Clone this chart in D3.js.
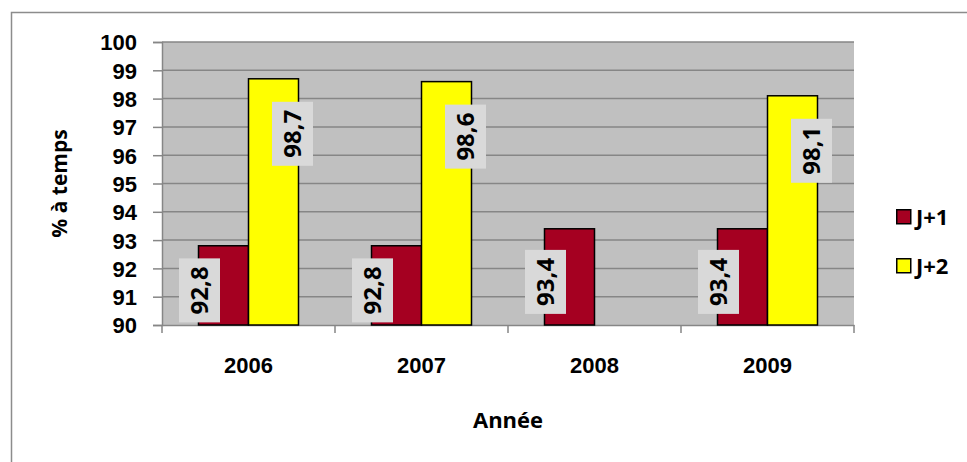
<!DOCTYPE html>
<html>
<head>
<meta charset="utf-8">
<script src="https://cdn.jsdelivr.net/npm/d3@7"></script>
<style>
  body { margin: 0; background: #fff; }
  svg { font-family: "Open Sans", sans-serif; font-weight: bold; }
  .axis path, .axis line { stroke: #868686; stroke-width: 1.5; }
  .axis text { fill: #000; font-size: 22px; font-weight: bold; }
</style>
</head>
<body>
<svg width="967" height="462"></svg>
<script>
// chart values
var years = ['2006', '2007', '2008', '2009'];
var series = ['J+1', 'J+2'];
var j1 = [92.8, 92.8, 93.4, 93.4];
var j2 = [98.7, 98.6, null, 98.1];
var yTicks = [90, 91, 92, 93, 94, 95, 96, 97, 98, 99, 100];
var colors = ['#a50021', '#ffff00'];

var svg = d3.select('svg');

// outer chart border
svg.append('rect')
   .attr('x', 11.5).attr('y', 12.5)
   .attr('width', 1000).attr('height', 500)
   .attr('fill', 'none')
   .attr('stroke', '#8c8c8c')
   .attr('stroke-width', 1.5);

var plotLeft = 162, plotRight = 854, plotTop = 42, plotBottom = 325;

var xScale = d3.scaleBand()
   .domain(years)
   .range([plotLeft, plotRight]);

var groupW = 100;
var xInner = d3.scaleBand()
   .domain(series)
   .range([0, groupW]);

var yScale = d3.scaleLinear()
   .domain([90, 100])
   .range([plotBottom, plotTop]);

// plot background
svg.append('rect')
   .attr('x', plotLeft).attr('y', plotTop)
   .attr('width', plotRight - plotLeft).attr('height', plotBottom - plotTop)
   .attr('fill', '#c0c0c0');

// gridlines
svg.selectAll('.grid')
   .data(yTicks.slice(1))
   .enter()
   .append('line')
   .attr('class', 'grid')
   .attr('x1', plotLeft).attr('x2', plotRight)
   .attr('y1', function(d){ return yScale(d); })
   .attr('y2', function(d){ return yScale(d); })
   .attr('stroke', '#868686')
   .attr('stroke-width', 1.5);

// axes
svg.append('g')
   .attr('class', 'y axis')
   .attr('transform', 'translate(' + plotLeft + ',0)')
   .call(d3.axisLeft(yScale).tickValues(yTicks).tickSize(9).tickPadding(16).tickFormat(d3.format('d')))
   .call(function(g){ g.selectAll('text').attr('dy', '0.36em'); });

var xAxis = svg.append('g')
   .attr('class', 'x axis')
   .attr('transform', 'translate(0,' + plotBottom + ')')
   .call(d3.axisBottom(xScale).tickSize(0).tickPadding(32));

// category separator ticks
svg.selectAll('.xtick')
   .data(years.concat(['end']))
   .enter()
   .append('line')
   .attr('class', 'xtick')
   .attr('x1', function(d, i){ return plotLeft + i * xScale.bandwidth(); })
   .attr('x2', function(d, i){ return plotLeft + i * xScale.bandwidth(); })
   .attr('y1', plotBottom).attr('y2', plotBottom + 8)
   .attr('stroke', '#868686')
   .attr('stroke-width', 1.5);

// bars
var rows = [];
years.forEach(function(y, i){
   rows.push({year: y, s: 0, v: j1[i]});
   if (j2[i] !== null) rows.push({year: y, s: 1, v: j2[i]});
});

function barX(d){
   return xScale(d.year) + (xScale.bandwidth() - groupW) / 2 + xInner(series[d.s]);
}

svg.selectAll('.bar')
   .data(rows)
   .enter()
   .append('rect')
   .attr('class', 'bar')
   .attr('x', barX)
   .attr('y', function(d){ return yScale(d.v); })
   .attr('width', xInner.bandwidth())
   .attr('height', function(d){ return plotBottom - yScale(d.v); })
   .attr('fill', function(d){ return colors[d.s]; })
   .attr('stroke', '#000')
   .attr('stroke-width', 1.5);

// data labels (rotated, on grey boxes)
var boxW = 41, boxH = 64;
var labels = svg.selectAll('.lab')
   .data(rows)
   .enter()
   .append('g')
   .attr('class', 'lab')
   .attr('transform', function(d){
       var cx, cy;
       if (d.s === 0) {
           cx = barX(d) + 1;
           cy = (yScale(d.v) + plotBottom) / 2 + 5;
       } else {
           cx = barX(d) + xInner.bandwidth() - 6;
           cy = yScale(d.v) + 55;
       }
       return 'translate(' + cx + ',' + cy + ')';
   });

labels.append('rect')
   .attr('x', -boxW / 2).attr('y', -boxH / 2)
   .attr('width', boxW).attr('height', boxH)
   .attr('fill', '#d9d9d9');

labels.append('text')
   .attr('transform', 'rotate(-90)')
   .attr('text-anchor', 'middle')
   .attr('dy', '0.36em')
   .style('font-size', '24px')
   .text(function(d){ return String(d.v).replace('.', ','); });

// axis titles
svg.append('text')
   .attr('x', (plotLeft + plotRight) / 2)
   .attr('y', 428)
   .attr('text-anchor', 'middle')
   .style('font-size', '22px')
   .text('Année');

svg.append('text')
   .attr('transform', 'translate(67,' + ((plotTop + plotBottom) / 2) + ')rotate(-90)')
   .attr('text-anchor', 'middle')
   .style('font-size', '21px')
   .text('% à temps');

// legend
var legend = svg.selectAll('.legend')
   .data(series)
   .enter()
   .append('g')
   .attr('class', 'legend')
   .attr('transform', function(d, i){ return 'translate(896,' + (209 + i * 49) + ')'; });

legend.append('rect')
   .attr('x', 0.75).attr('y', 0.75)
   .attr('width', 14).attr('height', 14)
   .attr('fill', function(d, i){ return colors[i]; })
   .attr('stroke', '#000')
   .attr('stroke-width', 1.5);

legend.append('text')
   .attr('x', 20)
   .attr('y', 15.5)
   .style('font-size', '22px')
   .text(function(d){ return d; });
</script>
</body>
</html>
